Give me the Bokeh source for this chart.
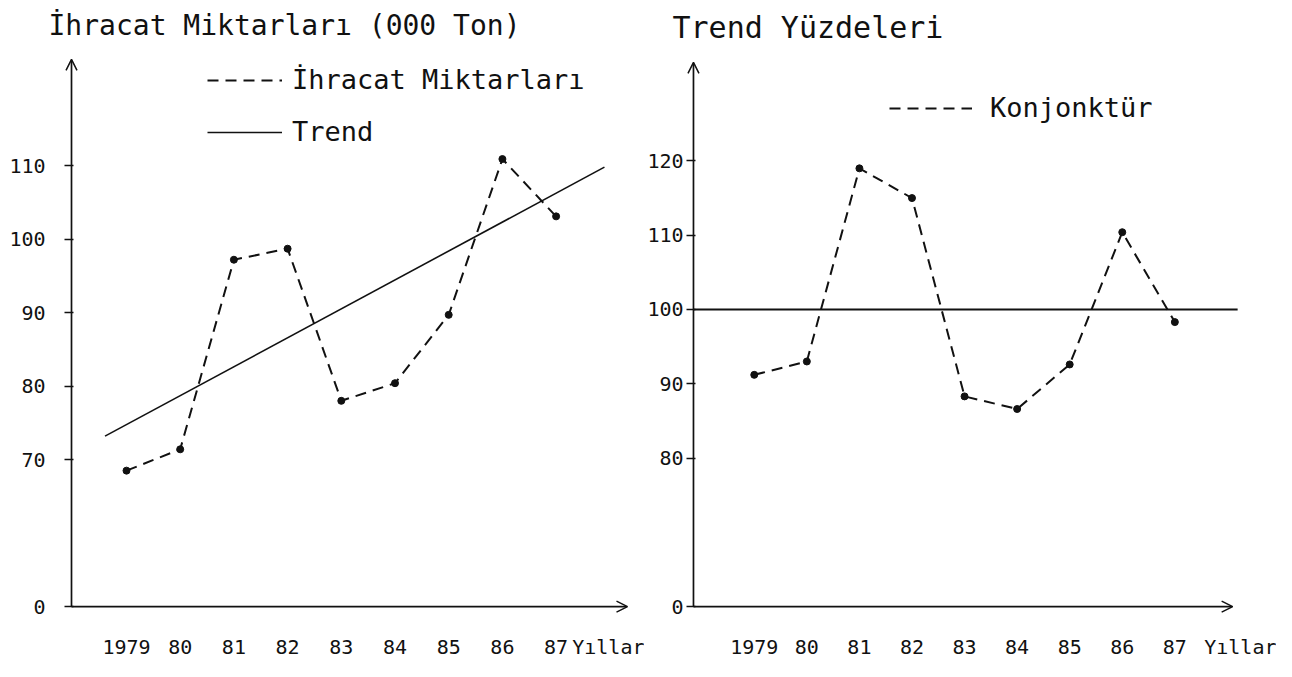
from bokeh.plotting import figure
from bokeh.models import (Range1d, FixedTicker, Arrow, OpenHead, Legend, LegendItem)
from bokeh.layouts import row
from bokeh.embed import file_html
from bokeh.resources import INLINE

# ---------------- data ----------------
years = [1979, 1980, 1981, 1982, 1983, 1984, 1985, 1986, 1987]
year_labels = ["1979", "80", "81", "82", "83", "84", "85", "86", "87"]
x_title = "Yıllar"

# left panel: export quantities (000 tons) and linear trend
ihracat = [68.5, 71.4, 97.2, 98.7, 78.0, 80.4, 89.7, 110.9, 103.1]
trend_x = [1978.6, 1987.9]
trend_y = [73.2, 109.8]
left_ticks = [50, 70, 80, 90, 100, 110]          # 50 is the broken-axis origin
left_tick_labels = ["0", "70", "80", "90", "100", "110"]

# right panel: cyclical component (percent of trend)
konjonktur = [91.2, 93.0, 119.0, 115.0, 88.3, 86.6, 92.6, 110.4, 98.3]
base_level = 100
right_ticks = [60, 80, 90, 100, 110, 120]         # 60 is the broken-axis origin
right_tick_labels = ["0", "80", "90", "100", "110", "120"]

FONT = "DejaVu Sans Mono"
INK = "#111111"
H = 661
FRAME_TOP = 50
FRAME_BOTTOM = 620
SPLIT = 644


def make_panel(width, left_px, right_px, x_ref, y_ref, axis_px, axis_top_py,
               axis_end_px, ticks, tick_labels, title, title_size, title_offset,
               title_standoff, label_standoff, xtitle_px):
    """x_ref=(year, px, px_per_year), y_ref=(value, py, px_per_unit)."""
    yr0, xpx0, sx = x_ref
    yv0, ypx0, sy = y_ref

    def dx(px):
        return yr0 + (px - xpx0) / sx

    def dy(py):
        return yv0 + (ypx0 - py) / sy

    xr = Range1d(dx(left_px), dx(right_px))
    yr = Range1d(dy(FRAME_BOTTOM), dy(FRAME_TOP))
    fig_left = left_px - (0 if width == SPLIT else SPLIT)
    p = figure(width=width, height=H, x_range=xr, y_range=yr,
               output_backend="svg", toolbar_location=None,
               min_border_left=fig_left, min_border_right=0,
               min_border_top=FRAME_TOP, min_border_bottom=H - FRAME_BOTTOM)
    p.outline_line_color = None
    p.grid.visible = False
    p.background_fill_color = "white"
    p.border_fill_color = "white"

    p.title.text = title
    p.title.align = "left"
    p.title.vertical_align = "top"
    p.title.offset = title_offset
    p.title.standoff = title_standoff
    p.title.text_font = FONT
    p.title.text_font_size = title_size
    p.title.text_font_style = "normal"
    p.title.text_color = INK

    for ax in (p.xaxis[0], p.yaxis[0]):
        ax.axis_line_color = None
        ax.minor_tick_line_color = None
        ax.major_label_text_font = FONT
        ax.major_label_text_color = INK
        ax.major_label_text_font_size = "20px"
    xt = dx(xtitle_px)
    p.xaxis.ticker = FixedTicker(ticks=years + [xt])
    p.xaxis.major_label_overrides = {**dict(zip(years, year_labels)), xt: x_title}
    p.xaxis.major_tick_line_color = None
    p.xaxis.major_tick_out = 0
    p.xaxis.major_tick_in = 0
    p.xaxis.major_label_standoff = 21
    p.yaxis.ticker = FixedTicker(ticks=ticks)
    p.yaxis.major_label_overrides = dict(zip(ticks, tick_labels))
    p.yaxis.major_tick_line_color = INK
    p.yaxis.major_tick_line_width = 1.3
    p.yaxis.major_tick_in = 9
    p.yaxis.major_tick_out = 0
    p.yaxis.major_label_standoff = label_standoff

    head = dict(size=11, line_width=1.5, line_color=INK)
    x0, y0 = dx(axis_px), ticks[0]
    p.add_layout(Arrow(end=OpenHead(**head), x_start=x0, y_start=y0,
                       x_end=x0, y_end=dy(axis_top_py), line_width=1.7, line_color=INK))
    p.add_layout(Arrow(end=OpenHead(**head), x_start=x0, y_start=y0,
                       x_end=dx(axis_end_px), y_end=y0, line_width=1.7, line_color=INK))
    return p, dx, dy


# ---------------- left panel ----------------
left, ldx, ldy = make_panel(SPLIT, 64, SPLIT, (1979, 126, 53.7), (50, 613, 7.44),
                            71, 59, 627, left_ticks, left_tick_labels,
                            "İhracat Miktarları (000 Ton)", "28px", -16, 14, 19, 608)
r_dash = left.line(years, ihracat, line_dash="11 7", line_width=2, line_color=INK)
left.scatter(years, ihracat, size=7, color=INK)
r_trend = left.line(trend_x, trend_y, line_width=1.6, line_color=INK)

lleg = Legend(items=[LegendItem(label="İhracat Miktarları", renderers=[r_dash]),
                     LegendItem(label="Trend", renderers=[r_trend])],
              location=(143, 466), glyph_width=75, glyph_height=20,
              label_standoff=10, spacing=21, padding=0, margin=0,
              border_line_color=None, background_fill_alpha=0,
              label_text_font=FONT, label_text_font_size="27px",
              label_text_color=INK)
left.add_layout(lleg)

# ---------------- right panel ----------------
right, rdx, rdy = make_panel(1276 - SPLIT, 684, 1276, (1979, 752, 52.75), (60, 613, 7.52),
                             691, 62, 1232, right_ticks, right_tick_labels,
                             "Trend Yüzdeleri", "30px", -14, 8, 3, 1240)
r_base = right.line([rdx(691), rdx(1237)], [base_level, base_level],
                    line_color=INK, line_width=2)
r_konj = right.line(years, konjonktur, line_dash="11 7", line_width=2, line_color=INK)
right.scatter(years, konjonktur, size=7, color=INK)

rleg = Legend(items=[LegendItem(label="Konjonktür", renderers=[r_konj])],
              location=(203, 490), glyph_width=83, glyph_height=20,
              label_standoff=18, padding=0, margin=0,
              border_line_color=None, background_fill_alpha=0,
              label_text_font=FONT, label_text_font_size="27px",
              label_text_color=INK)
right.add_layout(rleg)

layout = row(left, right)
open("out.html", "w").write(file_html(layout, INLINE))
